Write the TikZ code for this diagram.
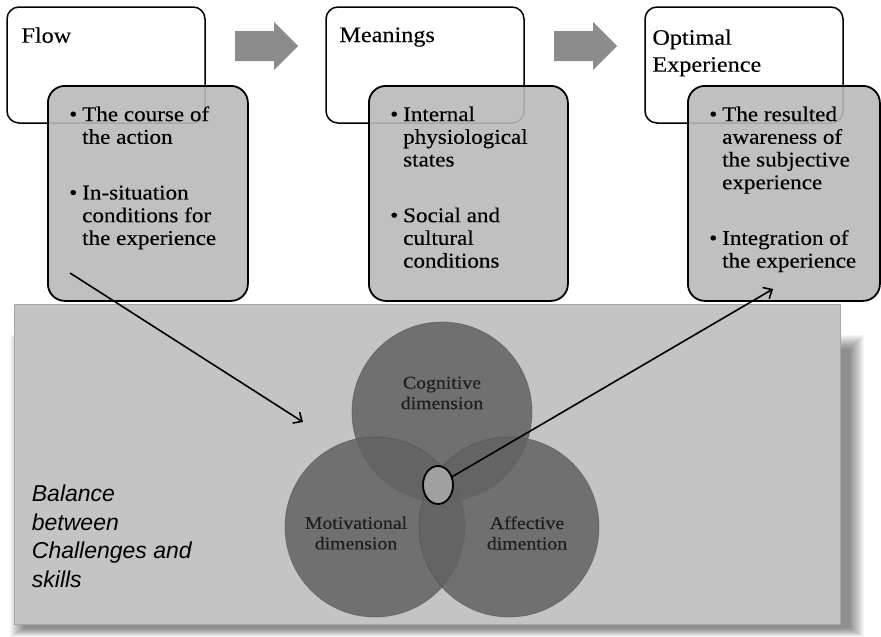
\documentclass[tikz,border=0pt]{standalone}
\usepackage{fontspec}
\setmainfont[FakeStretch=1.1,FakeBold=0.25]{Liberation Serif}
\newfontfamily\notefont{Liberation Sans}
\usetikzlibrary{arrows.meta,backgrounds,shapes.geometric}
\definecolor{boxgray}{RGB}{186,186,186}
\definecolor{fieldgray}{RGB}{196,196,196}
\definecolor{dimgray}{RGB}{98,98,98}
\definecolor{stepgray}{RGB}{140,140,140}
\definecolor{coregray}{RGB}{160,160,160}
\definecolor{inkgray}{RGB}{30,30,30}
\tikzset{
  headbox/.style={draw, line width=1.5pt, rounded corners=12pt, fill=white,
    minimum width=198pt, minimum height=116pt, inner sep=0pt},
  headtitle/.style={anchor=north west, inner sep=0pt, align=left,
    font=\fontsize{22}{27}\selectfont},
  bodybox/.style={draw, line width=1.8pt, rounded corners=17pt, fill=boxgray,
    fill opacity=.9, minimum height=215pt, inner sep=0pt, anchor=north west},
  bodylist/.style={anchor=north west, inner sep=0pt, font=\fontsize{21}{22.7}\selectfont},
  stepfill/.style={fill=stepgray},
  field/.style={draw=black!35, line width=.6pt, fill=fieldgray,
    minimum width=826pt, minimum height=320pt, inner sep=0pt},
  dimcircle/.style={circle, draw=black!70, draw opacity=.5, line width=.8pt,
    fill=dimgray, fill opacity=.85, minimum size=180pt, inner sep=0pt},
  dimlabel/.style={align=center, inner sep=0pt, text=inkgray,
    font=\fontsize{18}{20.5}\selectfont},
  core/.style={ellipse, draw, line width=1.8pt, fill=coregray,
    minimum width=30pt, minimum height=38pt, inner sep=0pt},
  link/.style={line width=1.6pt, -{Straight Barb[length=7pt,width=13pt]}}
}
\begin{document}
\begin{tikzpicture}[x=1pt,y=-1pt]
\useasboundingbox (0,0) rectangle (881,637);

\node[field] (field) at (427,464) {};
\begin{scope}[on background layer]
\fill[white] (0,0) rectangle (881,637);
\foreach \i in {0,...,14}
  \fill[black, opacity=.035] ([shift={(10-\i,45-\i)}]field.north west) rectangle ([shift={(10+\i,4+\i*.6)}]field.south east);
\end{scope}

\node[headbox] (flowhead) at (106,65) {};
\node[headbox] (meaninghead) at (425,65) {};
\node[headbox] (optimalhead) at (744,65) {};
\node[headtitle] (flowtitle) at ([shift={(15,21)}]flowhead.north west) {Flow};
\node[headtitle] (meaningtitle) at ([shift={(14,21)}]meaninghead.north west) {Meanings};
\node[headtitle] (optimaltitle) at ([shift={(8,23)}]optimalhead.north west) {Optimal\\Experience};

\foreach \ax in {235,554}
  \fill[stepfill] (\ax,31) -- ++(39,0) -- ++(0,-9) -- ++(24,24) -- ++(-24,24) -- ++(0,-9) -- ++(-39,0) -- cycle;

\node[bodybox, minimum width=200pt] (flowbody) at (47,85) {};
\node[bodybox, minimum width=199pt] (meaningbody) at (368,85) {};
\node[bodybox, minimum width=192pt] (optimalbody) at (687,85) {};

\node[bodylist] (flowlist) at ([shift={(22,20)}]flowbody.north west) {%
\begin{tabular}{@{}p{13pt}@{}l@{}}
\textbullet & The course of\\
 & the action\\[33pt]
\textbullet & In-situation\\
 & conditions for\\
 & the experience
\end{tabular}};
\node[bodylist] (meaninglist) at ([shift={(22,20)}]meaningbody.north west) {%
\begin{tabular}{@{}p{13pt}@{}l@{}}
\textbullet & Internal\\
 & physiological\\
 & states\\[33pt]
\textbullet & Social and\\
 & cultural\\
 & conditions
\end{tabular}};
\node[bodylist] (optimallist) at ([shift={(22,20)}]optimalbody.north west) {%
\begin{tabular}{@{}p{13pt}@{}l@{}}
\textbullet & The resulted\\
 & awareness of\\
 & the subjective\\
 & experience\\[33pt]
\textbullet & Integration of\\
 & the experience
\end{tabular}};

\node[anchor=north west, inner sep=0pt, align=left, font=\notefont\itshape\fontsize{23}{28.5}\selectfont]
  (balance) at ([shift={(18,181)}]field.north west) {Balance\\between\\Challenges and\\skills};

\node[dimcircle] (cognitive) at (442,412) {};
\node[dimcircle] (motivational) at (375,527) {};
\node[dimcircle] (affective) at (509,527) {};
\node[dimlabel] (cognitivetext) at ([shift={(0,-19)}]cognitive.center) {Cognitive\\dimension};
\node[dimlabel] (motivationaltext) at ([shift={(-19,6)}]motivational.center) {Motivational\\dimension};
\node[dimlabel] (affectivetext) at ([shift={(18,6)}]affective.center) {Affective\\dimention};
\node[core] (core) at (438,485) {};

\coordinate (flowstart) at (70,273);
\coordinate (flowend) at (303,422);
\coordinate (optimalend) at (773,289);
\draw[link] (flowstart) -- (flowend);
\draw[link] (core) -- (optimalend);
\end{tikzpicture}
\end{document}
